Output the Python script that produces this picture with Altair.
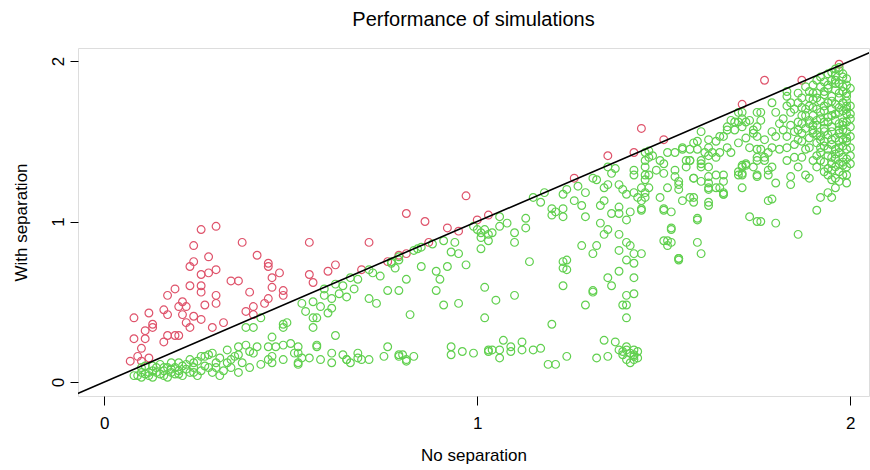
import altair as alt
import pandas as pd

TITLE = "Performance of simulations"
X_TITLE = "No separation"
Y_TITLE = "With separation"
TICKS = [0, 1, 2]

# Points where "with separation" beat "no separation" (red)
red_points = [
    (0.26, 0.95), (0.30, 0.97), (0.24, 0.85), (0.37, 0.87), (0.41, 0.79), (0.28, 0.78),
    (0.24, 0.75), (0.23, 0.72), (0.44, 0.74), (0.44, 0.72), (0.47, 0.68), (0.30, 0.70),
    (0.28, 0.68), (0.26, 0.67), (0.34, 0.63), (0.36, 0.63), (0.23, 0.60), (0.26, 0.60),
    (0.19, 0.58), (0.45, 0.65), (0.45, 0.59), (0.48, 0.57), (0.17, 0.54), (0.39, 0.56),
    (0.30, 0.54), (0.26, 0.56), (0.48, 0.54), (0.21, 0.50), (0.27, 0.48), (0.30, 0.49),
    (0.44, 0.52), (0.43, 0.49), (0.20, 0.47), (0.22, 0.47), (0.16, 0.45), (0.12, 0.43),
    (0.17, 0.42), (0.21, 0.42), (0.24, 0.41), (0.26, 0.39), (0.38, 0.44), (0.40, 0.47),
    (0.40, 0.42), (0.08, 0.40), (0.32, 0.37), (0.22, 0.37), (0.13, 0.36), (0.13, 0.34),
    (0.23, 0.34), (0.29, 0.34), (0.11, 0.32), (0.19, 0.29), (0.17, 0.29), (0.20, 0.29),
    (0.16, 0.25), (0.08, 0.27), (0.11, 0.27), (0.10, 0.21), (0.09, 0.16), (0.12, 0.15),
    (0.07, 0.13), (0.10, 0.13),
    (0.55, 0.87), (0.71, 0.87), (0.55, 0.67), (0.56, 0.62), (0.60, 0.69), (0.62, 0.73),
    (0.69, 0.70), (0.76, 0.75), (0.79, 0.79), (0.81, 0.80), (0.81, 1.05), (0.86, 1.00),
    (0.87, 0.87), (0.92, 0.96), (0.95, 0.94), (1.00, 1.01), (1.03, 1.04), (0.97, 1.16),
    (1.35, 1.41), (1.42, 1.43), (1.44, 1.58), (1.50, 1.51), (1.26, 1.27), (1.77, 1.88),
    (1.87, 1.88), (1.71, 1.73), (1.97, 1.98),
]

# Green points, grouped by region of the plot
green_lowleft = [
    (0.09, 0.04), (0.10, 0.06), (0.12, 0.06), (0.13, 0.07), (0.14, 0.06), (0.16, 0.07),
    (0.17, 0.09), (0.18, 0.06), (0.19, 0.09), (0.20, 0.07), (0.22, 0.11), (0.23, 0.06),
    (0.16, 0.04), (0.12, 0.04), (0.10, 0.03), (0.21, 0.04), (0.24, 0.12), (0.26, 0.07),
    (0.27, 0.16), (0.29, 0.18), (0.30, 0.12), (0.33, 0.20), (0.33, 0.12), (0.35, 0.16),
    (0.36, 0.22), (0.38, 0.23), (0.39, 0.09), (0.40, 0.18), (0.38, 0.34), (0.40, 0.34),
    (0.42, 0.40), (0.44, 0.22), (0.45, 0.16), (0.45, 0.12), (0.45, 0.28), (0.48, 0.36),
    (0.48, 0.23), (0.48, 0.14), (0.49, 0.37), (0.50, 0.24), (0.51, 0.18), (0.52, 0.22),
    (0.28, 0.09), (0.24, 0.09), (0.20, 0.12), (0.08, 0.04), (0.10, 0.09), (0.26, 0.16),
    (0.28, 0.17), (0.36, 0.17), (0.39, 0.19), (0.41, 0.22), (0.44, 0.14), (0.46, 0.22),
    (0.11, 0.10), (0.15, 0.11), (0.18, 0.12), (0.24, 0.06), (0.32, 0.07), (0.36, 0.06),
    (0.42, 0.11), (0.34, 0.09), (0.14, 0.09), (0.19, 0.05), (0.27, 0.10), (0.31, 0.15),
    (0.11, 0.05), (0.13, 0.03), (0.15, 0.05), (0.17, 0.03), (0.18, 0.08), (0.20, 0.05),
    (0.22, 0.08), (0.13, 0.10), (0.16, 0.09), (0.21, 0.10), (0.25, 0.04), (0.29, 0.06),
    (0.30, 0.09), (0.31, 0.04), (0.23, 0.14), (0.25, 0.13), (0.34, 0.14), (0.37, 0.12),
]

green_mid = [
    (0.53, 0.49), (0.56, 0.50), (0.59, 0.58), (0.59, 0.54), (0.58, 0.47), (0.61, 0.52),
    (0.61, 0.46), (0.63, 0.55), (0.65, 0.53), (0.62, 0.61), (0.66, 0.65), (0.68, 0.64),
    (0.71, 0.70), (0.71, 0.52), (0.73, 0.49), (0.76, 0.57), (0.79, 0.57), (0.81, 0.64),
    (0.77, 0.74), (0.79, 0.76), (0.79, 0.78), (0.84, 0.83), (0.85, 0.72), (0.89, 0.69),
    (0.90, 0.64), (0.89, 0.57), (0.92, 0.72), (0.94, 0.87), (0.93, 0.81), (0.95, 0.80),
    (0.97, 0.73), (0.91, 0.48), (0.95, 0.49), (0.82, 0.42), (1.02, 0.59), (1.02, 0.40),
    (1.01, 0.90), (1.01, 0.83), (1.03, 0.88), (0.56, 0.40), (0.57, 0.40), (0.56, 0.34),
    (0.62, 0.29), (0.57, 0.23), (0.61, 0.18), (0.58, 0.14), (0.61, 0.12), (0.64, 0.17),
    (0.65, 0.14), (0.68, 0.18), (0.68, 0.15), (0.69, 0.14), (0.71, 0.14), (0.75, 0.16),
    (0.76, 0.22), (0.79, 0.17), (0.80, 0.17), (0.81, 0.14), (0.83, 0.16), (0.93, 0.22),
    (0.93, 0.17), (0.96, 0.19), (0.99, 0.18), (1.03, 0.19), (0.52, 0.18), (0.52, 0.12),
    (0.53, 0.15), (0.48, 0.34), (0.52, 0.11), (0.55, 0.15), (0.57, 0.22), (0.65, 0.14),
    (0.66, 0.12), (0.79, 0.16), (0.81, 0.13), (1.03, 0.20), (1.04, 0.20), (1.06, 0.20),
    (1.05, 0.51), (0.99, 0.97), (1.01, 0.93), (1.00, 0.95), (1.03, 0.92), (1.02, 0.95),
    (0.83, 0.82), (0.85, 0.84), (0.77, 0.75), (0.78, 0.71), (0.72, 0.68), (0.74, 0.66),
    (0.64, 0.60), (0.67, 0.58), (0.54, 0.44), (0.60, 0.43), (0.88, 0.86), (0.91, 0.88),
]

green_center = [
    (1.35, 1.34), (1.36, 1.30), (1.37, 1.33), (1.45, 1.43), (1.45, 1.38), (1.45, 1.34),
    (1.42, 1.32), (1.42, 1.29), (1.46, 1.29), (1.32, 1.26), (1.34, 1.21), (1.35, 1.23),
    (1.38, 1.23), (1.39, 1.20), (1.40, 1.17), (1.42, 1.18), (1.43, 1.15), (1.45, 1.15),
    (1.44, 1.08), (1.41, 1.06), (1.40, 1.01), (1.38, 1.09), (1.38, 1.05), (1.36, 1.05),
    (1.34, 1.13), (1.33, 1.10), (1.29, 1.18), (1.28, 1.10), (1.29, 1.03), (1.23, 1.17),
    (1.23, 1.08), (1.23, 1.03), (1.20, 1.08), (1.20, 1.04), (1.21, 1.06), (1.18, 1.18),
    (1.15, 1.15), (1.13, 1.02), (1.13, 0.96), (1.10, 0.93), (1.10, 0.87), (1.08, 0.99),
    (1.06, 0.97), (1.04, 0.93), (1.06, 1.03), (1.33, 0.99), (1.34, 0.92), (1.35, 0.95),
    (1.38, 0.92), (1.40, 0.87), (1.41, 0.85), (1.42, 0.80), (1.40, 0.76), (1.42, 0.74),
    (1.38, 0.82), (1.28, 0.85), (1.32, 0.85), (1.31, 0.80), (1.42, 0.65), (1.38, 0.69),
    (1.35, 0.65), (1.36, 0.60), (1.14, 0.75), (1.24, 0.76), (1.24, 0.70), (1.23, 0.60),
    (1.31, 0.56), (1.40, 0.54), (1.42, 0.55), (1.10, 0.54), (1.29, 0.48), (1.40, 0.48),
    (1.40, 0.40), (1.20, 0.36), (1.31, 0.57), (1.39, 0.48), (1.23, 0.75), (1.23, 0.71),
    (1.51, 0.88), (1.51, 0.85), (1.54, 0.77), (1.52, 0.95), (1.50, 1.07), (1.52, 1.06),
    (1.24, 1.20), (1.27, 1.22), (1.31, 1.27), (1.17, 1.12), (1.26, 1.13),
]

green_bottom = [
    (1.07, 0.26), (1.09, 0.22), (1.09, 0.19), (1.12, 0.25), (1.12, 0.20), (1.15, 0.20),
    (1.17, 0.21), (1.06, 0.15), (1.19, 0.11), (1.21, 0.11), (1.24, 0.16), (1.32, 0.15),
    (1.34, 0.26), (1.35, 0.16), (1.37, 0.25), (1.38, 0.20), (1.39, 0.17), (1.40, 0.20),
    (1.42, 0.17), (1.40, 0.14), (1.42, 0.20), (1.42, 0.14), (1.40, 0.22), (1.41, 0.12),
    (1.42, 0.16), (1.39, 0.19), (1.43, 0.19), (1.43, 0.15), (1.41, 0.18),
]

green_upper = [
    (1.46, 1.44), (1.46, 1.40), (1.45, 1.29), (1.45, 1.26), (1.44, 1.21), (1.46, 1.21),
    (1.45, 1.18), (1.44, 1.13), (1.44, 1.07), (1.49, 1.15), (1.50, 1.08), (1.50, 0.88),
    (1.54, 0.76), (1.59, 0.87), (1.60, 0.80), (1.59, 1.02), (1.62, 1.10), (1.58, 1.15),
    (1.55, 1.13), (1.54, 1.20), (1.54, 1.23), (1.51, 1.21), (1.48, 1.32), (1.50, 1.30),
    (1.53, 1.32), (1.53, 1.28), (1.50, 1.36), (1.49, 1.38), (1.47, 1.41), (1.51, 1.43),
    (1.53, 1.43), (1.55, 1.46), (1.57, 1.45), (1.56, 1.38), (1.57, 1.38), (1.56, 1.34),
    (1.60, 1.38), (1.60, 1.34), (1.58, 1.27), (1.60, 1.25), (1.62, 1.24), (1.62, 1.20),
    (1.64, 1.21), (1.66, 1.18), (1.64, 1.29), (1.66, 1.29), (1.66, 1.25), (1.66, 1.17),
    (1.71, 1.21), (1.71, 1.30), (1.72, 1.35), (1.71, 1.35), (1.70, 1.29), (1.75, 1.29),
    (1.74, 1.34), (1.75, 1.40), (1.76, 1.45), (1.77, 1.38), (1.78, 1.32), (1.73, 1.46),
    (1.72, 1.52), (1.74, 1.55), (1.75, 1.59), (1.75, 1.68), (1.76, 1.63), (1.72, 1.62),
    (1.71, 1.59), (1.70, 1.62), (1.69, 1.57), (1.67, 1.59), (1.66, 1.53), (1.67, 1.46),
    (1.68, 1.43), (1.65, 1.43), (1.64, 1.50), (1.62, 1.51), (1.62, 1.46), (1.60, 1.56),
    (1.59, 1.50), (1.58, 1.49), (1.59, 1.45), (1.62, 1.41), (1.64, 1.40), (1.70, 1.68),
    (1.68, 1.63), (1.71, 1.68), (1.71, 1.64), (1.73, 1.03), (1.75, 1.00), (1.44, 0.80),
    (1.78, 1.13), (1.83, 1.81), (1.83, 1.78), (1.79, 1.74), (1.84, 1.74), (1.86, 1.74),
    (1.87, 1.71), (1.80, 1.68), (1.76, 1.68), (1.73, 1.63), (1.74, 1.57), (1.75, 1.53),
    (1.77, 1.51), (1.79, 1.56), (1.80, 1.53), (1.82, 1.57), (1.83, 1.53), (1.83, 1.46),
    (1.81, 1.45), (1.79, 1.46), (1.77, 1.40), (1.78, 1.43), (1.75, 1.38), (1.75, 1.45),
    (1.72, 1.36), (1.71, 1.34), (1.70, 1.31), (1.71, 1.29), (1.75, 1.28), (1.78, 1.29),
    (1.80, 1.24), (1.79, 1.34), (1.83, 1.38), (1.85, 1.40), (1.86, 1.34), (1.84, 1.28),
    (1.84, 1.23), (1.88, 1.29), (1.89, 1.27), (1.87, 1.40), (1.86, 1.51), (1.87, 1.55),
    (1.87, 1.61), (1.89, 1.63), (1.90, 1.57), (1.89, 1.46), (1.90, 1.38), (1.91, 1.34),
    (1.95, 1.26), (1.95, 1.32), (1.97, 1.36), (1.98, 1.35), (1.94, 1.18), (1.95, 1.15),
    (1.91, 1.07), (1.86, 0.92), (1.80, 0.99), (1.76, 1.00), (1.79, 1.14), (1.61, 1.43),
    (1.55, 1.45), (1.57, 1.38), (1.60, 1.36), (1.62, 1.34), (1.63, 1.43), (1.65, 1.53),
    (1.67, 1.57), (1.69, 1.62), (1.70, 1.49), (1.62, 1.28), (1.58, 1.27), (1.54, 1.25),
    (1.62, 1.21), (1.65, 1.21), (1.66, 1.17), (1.57, 1.15), (1.58, 1.12), (1.62, 1.12),
    (1.59, 1.01), (1.54, 0.77), (1.52, 0.96), (1.52, 0.87), (1.92, 1.15),
]

green_blob = [
    (1.96, 1.95), (1.97, 1.96), (1.97, 1.94), (1.96, 1.91), (1.94, 1.92), (1.92, 1.90),
    (1.98, 1.92), (1.99, 1.89), (1.91, 1.88), (1.93, 1.87), (1.95, 1.88), (1.97, 1.86),
    (1.99, 1.85), (1.90, 1.85), (1.92, 1.84), (1.94, 1.83), (1.96, 1.82), (1.98, 1.81),
    (2.00, 1.83), (1.89, 1.81), (1.91, 1.80), (1.93, 1.79), (1.95, 1.78), (1.97, 1.77),
    (1.99, 1.78), (1.90, 1.76), (1.92, 1.75), (1.94, 1.74), (1.96, 1.73), (1.98, 1.74),
    (2.00, 1.72), (1.89, 1.72), (1.91, 1.70), (1.93, 1.69), (1.95, 1.70), (1.97, 1.68),
    (1.99, 1.67), (1.90, 1.66), (1.92, 1.64), (1.94, 1.65), (1.96, 1.63), (1.98, 1.62),
    (2.00, 1.64), (1.89, 1.61), (1.91, 1.60), (1.93, 1.58), (1.95, 1.59), (1.97, 1.57),
    (1.99, 1.56), (1.90, 1.55), (1.92, 1.53), (1.94, 1.54), (1.96, 1.52), (1.98, 1.51),
    (2.00, 1.53), (1.91, 1.49), (1.93, 1.47), (1.95, 1.48), (1.97, 1.46), (1.99, 1.45),
    (1.92, 1.43), (1.94, 1.41), (1.96, 1.42), (1.98, 1.40), (2.00, 1.41), (1.93, 1.37),
    (1.95, 1.36), (1.99, 1.34), (1.97, 1.31), (1.94, 1.29), (1.96, 1.27), (1.99, 1.29),
    (1.98, 1.60), (1.99, 1.70), (1.96, 1.88), (1.95, 1.66), (1.93, 1.62), (1.97, 1.55),
    (1.92, 1.51), (1.99, 1.50), (1.94, 1.45), (1.96, 1.39), (2.00, 1.59), (1.98, 1.69),
    (1.90, 1.71), (1.88, 1.66), (1.88, 1.58), (1.87, 1.50), (1.88, 1.45), (1.86, 1.62),
    (1.85, 1.56), (1.84, 1.68), (1.86, 1.80), (1.88, 1.84), (1.87, 1.77),
    (1.95, 1.93), (1.98, 1.90), (1.96, 1.86), (1.94, 1.85), (1.98, 1.84), (1.93, 1.81),
    (1.99, 1.80), (1.97, 1.80), (1.91, 1.77), (1.95, 1.75), (1.99, 1.75), (1.93, 1.72),
    (1.97, 1.71), (1.99, 1.72), (1.92, 1.68), (1.96, 1.67), (2.00, 1.67), (1.94, 1.62),
    (1.91, 1.63), (1.97, 1.61), (1.99, 1.62), (1.93, 1.56), (1.95, 1.56), (1.98, 1.57),
    (1.91, 1.54), (1.95, 1.51), (1.97, 1.50), (1.99, 1.52), (1.93, 1.50), (1.92, 1.46),
    (1.96, 1.45), (1.98, 1.47), (2.00, 1.46), (1.91, 1.41), (1.95, 1.40), (1.97, 1.43),
    (1.99, 1.39), (1.92, 1.38), (1.96, 1.34), (1.98, 1.37), (2.00, 1.36), (1.94, 1.33),
    (1.98, 1.29), (1.93, 1.31), (1.97, 1.25), (1.99, 1.24), (1.96, 1.21), (1.90, 1.60),
    (1.89, 1.52), (1.88, 1.70), (1.89, 1.77), (1.90, 1.80), (1.87, 1.66), (1.86, 1.57),
    (1.85, 1.48), (1.84, 1.60), (1.85, 1.70), (1.82, 1.64), (1.83, 1.72), (1.81, 1.61),
]

RED = "#DF536B"
GREEN = "#61D04F"
FONT = "Liberation Sans"

rows = [{"x": x, "y": y, "group": "better"} for x, y in red_points]
for region in (green_lowleft, green_mid, green_center, green_bottom, green_upper, green_blob):
    rows += [{"x": x, "y": y, "group": "worse"} for x, y in region]
df = pd.DataFrame(rows)

line_x = [-0.2, 2.2]
line_df = pd.DataFrame({"x": line_x, "y": line_x})

xscale = alt.Scale(domain=[-0.07, 2.05], nice=False, zero=False)
yscale = alt.Scale(domain=[-0.087, 2.081], nice=False, zero=False)

xaxis = alt.Axis(values=TICKS, title=X_TITLE, grid=False, domain=False,
                 labelExpr="format(datum.value, 'd')",
                 tickColor="black", tickSize=9, tickWidth=1, labelOverlap=False,
                 labelFlush=False, labelBound=False,
                 labelFont=FONT, labelFontSize=17, labelColor="black", labelPadding=10,
                 titleFont=FONT, titleFontSize=17, titleFontWeight="normal",
                 titleColor="black", titlePadding=16)
yaxis = alt.Axis(values=TICKS, title=Y_TITLE, grid=False, domain=False,
                 labelExpr="format(datum.value, 'd')",
                 tickColor="black", tickSize=8, tickWidth=1, labelOverlap=False,
                 labelFlush=False, labelBound=False,
                 labelFont=FONT, labelFontSize=17, labelColor="black", labelPadding=3,
                 labelAngle=270, labelAlign="center", labelBaseline="bottom",
                 titleFont=FONT, titleFontSize=17, titleFontWeight="normal",
                 titleColor="black", titlePadding=19)

points = alt.Chart(df).mark_point(shape="circle", filled=False, size=60, strokeWidth=1.2, opacity=1).encode(
    x=alt.X("x:Q", scale=xscale, axis=xaxis),
    y=alt.Y("y:Q", scale=yscale, axis=yaxis),
    color=alt.Color("group:N", scale=alt.Scale(domain=["better", "worse"], range=[RED, GREEN]), legend=None),
)

diag = alt.Chart(line_df).mark_line(color="black", strokeWidth=1.6, clip=True).encode(
    x=alt.X("x:Q", scale=xscale, axis=xaxis),
    y=alt.Y("y:Q", scale=yscale, axis=yaxis),
)

chart = alt.layer(points, diag).properties(
    width=791, height=348,
    title=alt.TitleParams(TITLE, font=FONT, fontSize=20, fontWeight="normal", color="black", offset=18, anchor="middle"),
    autosize=alt.AutoSizeParams(type="none"),
    padding={"left": 78, "top": 48, "right": 1, "bottom": 74},
).configure_view(stroke="black", strokeWidth=1.2).configure(background="white")

chart.save("out.html", embed_options={"renderer": "svg", "actions": False})
